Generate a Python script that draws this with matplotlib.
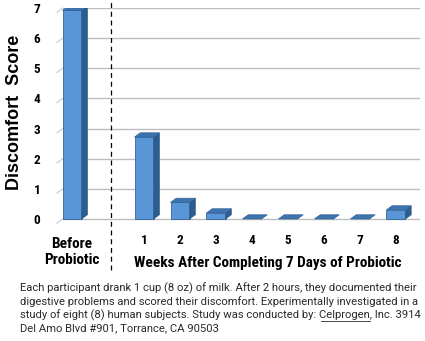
import matplotlib.pyplot as plt
from matplotlib.patches import Polygon
import matplotlib.transforms as mtransforms

# data
categories = ["Before\nProbiotic", "1", "2", "3", "4", "5", "6", "7", "8"]
positions = [0, 2, 3, 4, 5, 6, 7, 8, 9]
scores = [6.92, 2.72, 0.55, 0.2, 0.0, 0.0, 0.0, 0.0, 0.3]
yticks = [0, 1, 2, 3, 4, 5, 6, 7]

caption_lines = [
    "Each participant drank 1 cup (8 oz) of milk. After 2 hours, they documented their",
    "digestive problems and scored their discomfort. Experimentally investigated in a",
    "study of eight (8) human subjects. Study was conducted by: Celprogen, Inc. 3914",
    "Del Amo Blvd #901, Torrance, CA 90503",
]

cond = ['Roboto Condensed', 'DejaVu Sans']
W, H = 425, 341

fig = plt.figure(figsize=(4.25, 3.41), dpi=100)
ax = fig.add_axes([57 / W, (H - 220.5) / H, 363 / W, 212.5 / H])
ax.set_xlim(-0.42, 9.67)
ax.set_ylim(-0.05, 7.0)
for s in ax.spines.values():
    s.set_visible(False)

dx, dy = 0.16, 0.14
w = 0.53

# gridlines with a slanted foot on the left
for y in yticks:
    ax.plot([-0.42 + dx, 9.67], [y, y], color='#bdbdbd', lw=1, zorder=0)
    ax.plot([-0.42, -0.42 + dx], [y - dy, y], color='#c8c8c8', lw=0.8, zorder=0, clip_on=False)

front = '#5896d8'
side = '#2d5d8f'
top = '#3e74ae'
edge = '#33649a'
for x, h in zip(positions, scores):
    l, r = x - w / 2, x + w / 2
    if h > 0:
        ax.add_patch(Polygon([(l, 0), (r, 0), (r, h), (l, h)], closed=True,
                             fc=front, ec=edge, lw=0.6, zorder=3))
        ax.add_patch(Polygon([(r, 0), (r + dx, dy), (r + dx, h + dy), (r, h)], closed=True,
                             fc=side, ec=side, lw=0.5, zorder=3))
    ax.add_patch(Polygon([(l, h), (r, h), (r + dx, h + dy), (l + dx, h + dy)], closed=True,
                         fc=top, ec=edge, lw=0.5, zorder=4))

ax.set_yticks(yticks)
ax.set_yticklabels([str(v) for v in yticks], fontsize=9.5, fontweight='bold', family=cond)
ax.set_xticks(positions[1:])
ax.set_xticklabels(categories[1:], fontsize=9.5, fontweight='bold', family=cond)
ax.tick_params(axis='both', length=0)
ax.tick_params(axis='y', pad=12)
ax.tick_params(axis='x', pad=10)

blend = mtransforms.blended_transform_factory(ax.transData, fig.transFigure)
ax.text(positions[0], 1 - 252 / H, categories[0], transform=blend, ha='center', va='center',
        fontsize=11, fontweight='bold', family=cond, linespacing=1.25)

# dashed separator
trans = mtransforms.blended_transform_factory(ax.transData, ax.transAxes)
ax.plot([1.08, 1.08], [-0.233, 1.03], transform=trans, color='black', lw=0.9,
        ls=(0, (4, 3)), clip_on=False)

ax.set_ylabel("Discomfort  Score", fontsize=13, fontweight='bold',
              family=['Liberation Sans', 'DejaVu Sans'])
ax.yaxis.set_label_coords(-0.093, 0.51)

fig.text(268 / W, 1 - 263 / H, "Weeks After Completing 7 Days of Probiotic",
         ha='center', va='center', fontsize=11, fontweight='bold', family=cond)

# caption, one line at a time
cap_font = dict(fontsize=8.1, family=['Roboto', 'DejaVu Sans'], color='#2a2a2a')
line_y = [288, 301.5, 315, 328.5]
for txt, yy in zip(caption_lines, line_y):
    fig.text(20 / W, 1 - yy / H, txt, ha='left', va='center', **cap_font)

# underline under the company name
fig.canvas.draw()
renderer = fig.canvas.get_renderer()
pre = "study of eight (8) human subjects. Study was conducted by: "
t1 = fig.text(20 / W, 0, pre, ha='left', va='center', **cap_font)
t2 = fig.text(20 / W, 0, pre + "Celprogen", ha='left', va='center', **cap_font)
x0 = t1.get_window_extent(renderer).x1
x1 = t2.get_window_extent(renderer).x1
t1.remove()
t2.remove()
uy = 1 - (line_y[2] + 5.5) / H
fig.add_artist(plt.Line2D([x0 / W + 1.5 / W, x1 / W], [uy, uy], color='#2a2a2a', lw=0.6))

fig.savefig('out.png', dpi=100)
